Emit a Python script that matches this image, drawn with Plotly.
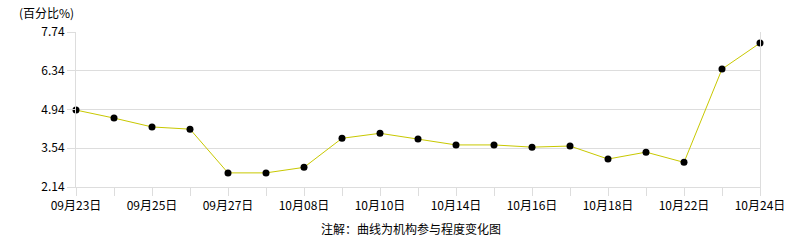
import plotly.graph_objects as go

categories = ["09月23日", "09月24日", "09月25日", "09月26日", "09月27日", "09月30日",
              "10月08日", "10月09日", "10月10日", "10月11日", "10月14日", "10月15日",
              "10月16日", "10月17日", "10月18日", "10月21日", "10月22日", "10月23日", "10月24日"]
values = [4.92, 4.63, 4.31, 4.23, 2.65, 2.65, 2.85, 3.90, 4.08, 3.87, 3.66, 3.66,
          3.58, 3.62, 3.15, 3.40, 3.03, 6.40, 7.34]
y_ticks = [2.14, 3.54, 4.94, 6.34, 7.74]
tick_text = [c if i % 2 == 0 else "" for i, c in enumerate(categories)]

FONT = "Noto Sans CJK SC"

fig = go.Figure(go.Scatter(
    x=categories, y=values, mode="lines+markers",
    line=dict(color="#c8c800", width=1),
    marker=dict(color="#000000", size=7),
    cliponaxis=False, hoverinfo="x+y"))

fig.update_layout(
    width=786, height=240,
    margin=dict(l=76, r=26, t=32, b=53, autoexpand=False),
    paper_bgcolor="#ffffff", plot_bgcolor="#ffffff",
    showlegend=False,
    font=dict(family=FONT, size=12, color="#000000"),
    annotations=[
        dict(text="(百分比%)", xref="paper", yref="paper", x=(17 - 76) / 684, y=1, yshift=20,
             xanchor="left", yanchor="middle", showarrow=False, font=dict(size=12, family=FONT)),
        dict(text="注解：曲线为机构参与程度变化图", xref="paper", yref="paper",
             x=(411 - 76) / 684, y=0, yshift=-41, xanchor="center", yanchor="middle",
             showarrow=False, font=dict(size=12, family=FONT)),
    ],
)

fig.update_xaxes(
    type="category", categoryorder="array", categoryarray=categories,
    range=[0, len(categories) - 1], automargin=False,
    tickmode="array", tickvals=categories, ticktext=tick_text,
    ticks="outside", ticklen=8, tickcolor="#dddddd",
    showgrid=False, showline=True, linecolor="#dddddd", linewidth=1,
    zeroline=False, tickangle=0, tickfont=dict(size=12, family=FONT))

fig.update_yaxes(
    range=[y_ticks[0], y_ticks[-1]], automargin=False,
    tickmode="array", tickvals=y_ticks, ticktext=[f"{v:.2f}" for v in y_ticks],
    ticks="outside", ticklen=8, tickcolor="#dddddd",
    showgrid=True, gridcolor="#dddddd", gridwidth=1,
    showline=True, mirror=True, linecolor="#dddddd", linewidth=1,
    zeroline=False, tickfont=dict(size=12, family=FONT))

fig.write_html("out.html")
